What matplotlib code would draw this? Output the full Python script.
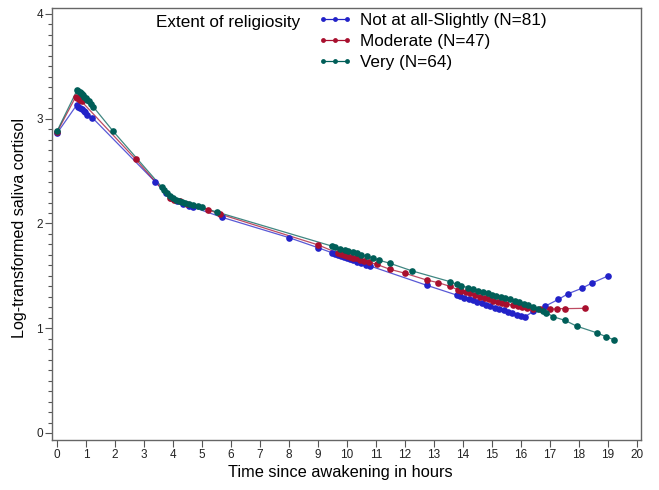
import matplotlib
matplotlib.use("Agg")
import matplotlib.pyplot as plt
from matplotlib.lines import Line2D
from matplotlib.ticker import MultipleLocator

plt.rcParams['font.family'] = ['Liberation Sans', 'DejaVu Sans']

# Predicted log cortisol by hours since awakening, per religiosity group
low_hours = [0.0, 0.68, 0.73, 0.78, 0.85, 0.92, 0.97, 1.04, 1.22, 3.38, 3.75, 3.95,
             4.15, 4.35, 4.55, 4.70, 5.68, 8.0, 8.99, 9.49, 9.6, 9.7, 9.8, 9.9,
             10.0, 10.1, 10.2, 10.35, 10.5, 10.65, 10.79, 12.75, 13.78, 13.9, 14.05,
             14.2, 14.35, 14.5, 14.65, 14.8, 14.95, 15.1, 15.25, 15.4, 15.55, 15.7,
             15.85, 16.0, 16.14, 16.42, 16.83, 17.29, 17.63, 18.09, 18.44, 19.01]
low_vals = [2.86, 3.13, 3.115, 3.10, 3.09, 3.07, 3.06, 3.04, 3.01, 2.40, 2.29, 2.24,
            2.21, 2.19, 2.17, 2.155, 2.06, 1.865, 1.77, 1.72, 1.708, 1.698, 1.688, 1.678,
            1.668, 1.658, 1.648, 1.634, 1.62, 1.607, 1.595, 1.41, 1.317, 1.306, 1.292,
            1.279, 1.265, 1.251, 1.237, 1.224, 1.21, 1.197, 1.183, 1.17, 1.157, 1.145,
            1.13, 1.115, 1.11, 1.16, 1.21, 1.275, 1.33, 1.38, 1.43, 1.50]

mod_hours = [0.0, 0.65, 0.70, 0.75, 0.80, 0.85, 2.71, 3.9, 4.05, 4.25, 4.5, 5.22,
             5.62, 9.01, 9.70, 9.8, 9.9, 10.0, 10.1, 10.2, 10.3, 10.45, 10.6, 10.75,
             11.02, 11.48, 12.0, 12.75, 13.15, 13.55, 13.84, 13.95, 14.1, 14.25, 14.4,
             14.59, 14.75, 14.9, 15.05, 15.2, 15.35, 15.5, 15.74, 15.9, 16.05, 16.2,
             16.4, 16.66, 17.0, 17.26, 17.52, 18.21]
mod_vals = [2.87, 3.21, 3.20, 3.19, 3.175, 3.165, 2.615, 2.24, 2.225, 2.21, 2.19, 2.13,
            2.09, 1.795, 1.715, 1.707, 1.699, 1.691, 1.683, 1.675, 1.667, 1.655, 1.643, 1.631,
            1.61, 1.563, 1.525, 1.46, 1.435, 1.40, 1.365, 1.356, 1.344, 1.332, 1.32,
            1.30, 1.287, 1.275, 1.263, 1.251, 1.239, 1.228, 1.222, 1.21, 1.20, 1.19,
            1.18, 1.18, 1.18, 1.187, 1.187, 1.19]

very_hours = [0.0, 0.70, 0.74, 0.78, 0.82, 0.86, 0.90, 0.95, 1.0, 1.05, 1.1, 1.17,
              1.25, 1.94, 3.61, 3.7, 3.8, 3.9, 4.0, 4.1, 4.2, 4.3, 4.4, 4.55, 4.7,
              4.85, 4.99, 5.51, 9.47, 9.6, 9.75, 9.93, 10.05, 10.2, 10.35, 10.5, 10.7,
              10.9, 11.1, 11.48, 12.25, 13.55, 13.78, 13.95, 14.18, 14.35, 14.53, 14.7,
              14.85, 15.0, 15.15, 15.3, 15.45, 15.62, 15.8, 15.95, 16.1, 16.25, 16.42,
              16.6, 16.75, 16.88, 17.11, 17.52, 17.92, 18.61, 18.93, 19.22]
very_vals = [2.88, 3.275, 3.265, 3.255, 3.245, 3.235, 3.225, 3.21, 3.195, 3.18, 3.165, 3.14,
             3.115, 2.88, 2.35, 2.32, 2.29, 2.26, 2.24, 2.226, 2.216, 2.208, 2.20, 2.19, 2.18,
             2.168, 2.155, 2.11, 1.785, 1.772, 1.76, 1.75, 1.741, 1.728, 1.715, 1.702, 1.685,
             1.668, 1.65, 1.62, 1.547, 1.445, 1.42, 1.405, 1.387, 1.372, 1.358, 1.344,
             1.332, 1.32, 1.308, 1.296, 1.286, 1.276, 1.262, 1.248, 1.235, 1.222, 1.20,
             1.185, 1.168, 1.149, 1.11, 1.075, 1.02, 0.957, 0.92, 0.888]

labels = ["Not at all-Slightly (N=81)", "Moderate (N=47)", "Very (N=64)"]
colors = ["#2222c8", "#a80f2e", "#005e58"]
series = [(low_hours, low_vals), (mod_hours, mod_vals), (very_hours, very_vals)]

x_ticks = list(range(0, 21))
y_ticks = [0, 1, 2, 3, 4]

fig = plt.figure(figsize=(6.59, 4.90), dpi=100)
ax = fig.add_axes([52 / 659, 50 / 490, (641 - 52) / 659, (440 - 8) / 490])

handles = []
for (hx, hy), c, lab in zip(series, colors, labels):
    ax.plot(hx, hy, '-', color=c, lw=0.9, alpha=0.75, zorder=2)
    ax.plot(hx, hy, 'o', color=c, ms=4.8, mec=c, mew=0, zorder=3)
    handles.append(Line2D([], [], color=c, lw=0.9, marker='o', ms=3.5, mew=0, label=lab))

ax.set_xlim(-0.17, 20.14)
ax.set_ylim(-0.067, 4.057)
ax.set_xticks(x_ticks)
ax.set_yticks(y_ticks)
ax.yaxis.set_minor_locator(MultipleLocator(0.1))
ax.tick_params(axis='both', which='major', length=5, width=0.8, color='#555555',
               labelsize=8.5, labelcolor='#222222', pad=1.5)
ax.tick_params(axis='y', which='minor', length=3, width=0.8, color='#555555')
for s in ax.spines.values():
    s.set_color('#666666')
    s.set_linewidth(1.0)

fig.text(340 / 659, 1 - 472 / 490, "Time since awakening in hours", ha='center',
         va='center', fontsize=11.8)
fig.text(20 / 659, 1 - 228 / 490, "Log-transformed saliva cortisol", ha='center',
         va='center', rotation=90, fontsize=11.6)

fig.text(300 / 659, 1 - 22 / 490, "Extent of religiosity", ha='right', va='center',
         fontsize=12.3)
leg = ax.legend(handles=handles, loc='upper left', bbox_to_anchor=(318 / 659, 1 - 13 / 490),
                bbox_transform=fig.transFigure, frameon=False, fontsize=12.3,
                numpoints=3, handlelength=2.0, handletextpad=0.45, labelspacing=0.36,
                borderaxespad=0, borderpad=0)

fig.savefig("out.png", dpi=100)
